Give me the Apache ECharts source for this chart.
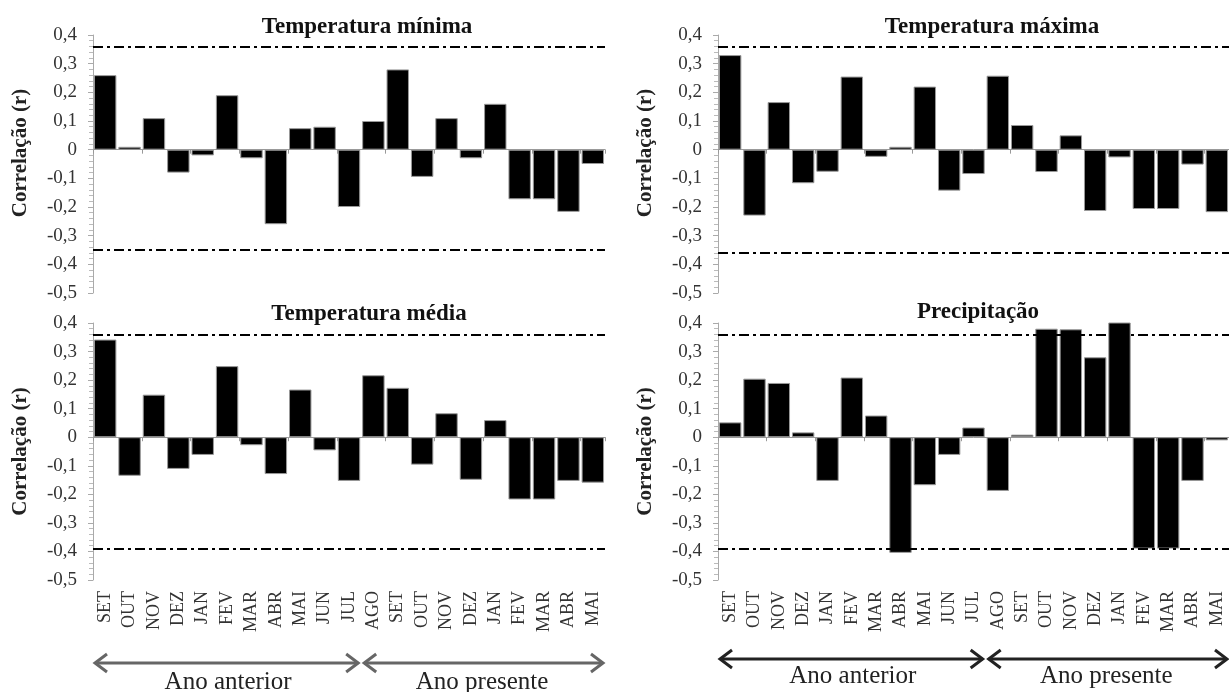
<!DOCTYPE html>
<html>
<head>
<meta charset="utf-8">
<script src="https://cdn.jsdelivr.net/npm/echarts@6/dist/echarts.min.js"></script>
<style>
html,body{margin:0;padding:0;background:#fff;}
#c{width:1229px;height:692px;}
</style>
</head>
<body>
<div id="c"></div>
<script>
const months = ['SET','OUT','NOV','DEZ','JAN','FEV','MAR','ABR','MAI','JUN','JUL','AGO','SET','OUT','NOV','DEZ','JAN','FEV','MAR','ABR','MAI'];
const yTicks = [-0.5, 0.4, 0.1];
const tMin = [0.26,0.01,0.11,-0.08,-0.02,0.19,-0.03,-0.26,0.075,0.08,-0.20,0.10,0.28,-0.095,0.11,-0.03,0.16,-0.173,-0.173,-0.217,-0.05];
const tMax = [0.33,-0.23,0.166,-0.117,-0.077,0.255,-0.025,0.01,0.22,-0.143,-0.085,0.258,0.086,-0.078,0.05,-0.214,-0.027,-0.207,-0.207,-0.052,-0.218];
const tMed = [0.342,-0.135,0.149,-0.111,-0.062,0.249,-0.028,-0.129,0.167,-0.046,-0.153,0.217,0.173,-0.096,0.084,-0.149,0.06,-0.218,-0.218,-0.153,-0.159];
const prec = [0.052,0.205,0.19,0.017,-0.153,0.209,0.076,-0.405,-0.168,-0.062,0.034,-0.188,0.009,0.38,0.378,0.28,0.403,-0.39,-0.39,-0.153,-0.011];
const thrMin = [0.36,-0.353];
const thrMax = [0.356,-0.356];
const thrMed = [0.363,-0.39];
const thrPrec = [0.363,-0.387];
const titles = ['Temperatura mínima','Temperatura máxima','Temperatura média','Precipitação'];
const yName = 'Correlação (r)';
const periods = ['Ano anterior','Ano presente'];

const FONT = '"Liberation Serif","Times New Roman",serif';
const panels = [
  {data:tMin, thr:thrMin, title:titles[0], left:93, width:512, top:35, height:258, labels:false, namePad:22},
  {data:tMax, thr:thrMax, title:titles[1], left:718, width:515, top:35, height:258, labels:false, namePad:22},
  {data:tMed, thr:thrMed, title:titles[2], left:93, width:512, top:323, height:257, labels:true, namePad:0},
  {data:prec, thr:thrPrec, title:titles[3], left:718, width:515, top:323, height:257, labels:true, namePad:0}
];
const titleCenters = [[362,11],[987,11],[364,298],[973,296]];

const chart = echarts.init(document.getElementById('c'), null, {renderer:'canvas'});
const grid=[], xAxis=[], yAxis=[], series=[], title=[];
panels.forEach((p,i)=>{
  grid.push({left:p.left, width:p.width, top:p.top, height:p.height});
  title.push({text:p.title, left:titleCenters[i][0], top:titleCenters[i][1], textAlign:'center',
    textStyle:{fontFamily:FONT, fontWeight:'bold', fontSize:23, color:'#111'}});
  // zero axis
  xAxis.push({type:'category', gridIndex:i, data:months,
    axisLine:{onZero:true, lineStyle:{color:'#999', width:1}},
    axisTick:{show:true, length:4, lineStyle:{color:'#999'}},
    axisLabel:{show:false}, splitLine:{show:false}});
  // label axis
  xAxis.push({type:'category', gridIndex:i, data:months, position:'bottom',
    axisLine:{show:false, onZero:false}, axisTick:{show:false},
    axisLabel:{show:p.labels, rotate:90, interval:0, margin:11, fontFamily:FONT, fontSize:18, color:'#333'}});
  yAxis.push({type:'value', gridIndex:i, min:yTicks[0], max:yTicks[1], interval:yTicks[2],
    name:yName, nameLocation:'middle', nameGap:62, nameRotate:90,
    nameTextStyle:{fontFamily:FONT, fontWeight:'bold', fontSize:21, color:'#222', padding:[0,0,0,p.namePad]},
    axisLine:{show:true, lineStyle:{color:'#aaa'}},
    axisTick:{show:true, length:5, lineStyle:{color:'#aaa'}},
    minorTick:{show:true, splitNumber:5, length:4, lineStyle:{color:'#bbb'}},
    splitLine:{show:false},
    axisLabel:{margin:16, fontFamily:FONT, fontSize:19, color:'#333',
      formatter:v=>{const r=Math.round(v*10)/10; return r===0?'0':String(r).replace('.',',');}}});
  series.push({type:'bar', xAxisIndex:2*i, yAxisIndex:i, data:p.data, barCategoryGap:'8%',
    itemStyle:{color:'#000', borderColor:'#999', borderWidth:1},
    markLine:{silent:true, symbol:'none', label:{show:false},
      lineStyle:{color:'#000', type:[10,4,3,4], width:2},
      data:[{yAxis:p.thr[0]},{yAxis:p.thr[1]}]}});
});
chart.setOption({animation:false, title, grid, xAxis, yAxis, series});

// arrows and period labels under the bottom panels
const graphic=[];
function arrow(x1,x2,y,color){
  graphic.push({type:'line', shape:{x1:x1,y1:y,x2:x2,y2:y}, style:{stroke:color, lineWidth:3}});
  graphic.push({type:'polyline', shape:{points:[[x1+12,y-9],[x1,y],[x1+12,y+9]]}, style:{stroke:color, lineWidth:3, fill:null}});
  graphic.push({type:'polyline', shape:{points:[[x2-12,y-9],[x2,y],[x2-12,y+9]]}, style:{stroke:color, lineWidth:3, fill:null}});
}
[[2,'#666',663,682],[3,'#222',659,676]].forEach(([pi,col,ay,ty])=>{
  const g = panels[pi];
  const xa = chart.convertToPixel({xAxisIndex:2*pi}, 10);
  const xb = chart.convertToPixel({xAxisIndex:2*pi}, 11);
  const mid = (xa+xb)/2;
  const start = g.left+2;
  const end = Math.min(g.left+g.width-2, 1227);
  arrow(start, mid-3, ay, col);
  arrow(mid+3, end, ay, col);
  graphic.push({type:'text', x:(start+mid)/2, y:ty, style:{text:periods[0], font:'25px '+FONT, fill:'#222', textAlign:'center', textVerticalAlign:'middle'}});
  graphic.push({type:'text', x:(mid+end)/2, y:ty, style:{text:periods[1], font:'25px '+FONT, fill:'#222', textAlign:'center', textVerticalAlign:'middle'}});
});
chart.setOption({graphic});
</script>
</body>
</html>
